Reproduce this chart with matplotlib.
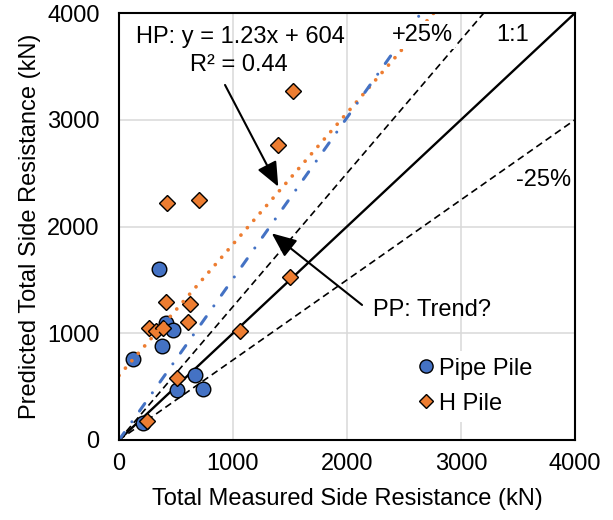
import matplotlib
matplotlib.use("Agg")
import matplotlib.pyplot as plt
import numpy as np
from matplotlib.lines import Line2D

plt.rcParams['font.family'] = ['Liberation Sans', 'DejaVu Sans']
FS = 17

# Data
pipe_x = [350, 120, 415, 476, 381, 665, 511, 735, 213]
pipe_y = [1602, 755, 1095, 1035, 877, 609, 468, 475, 156]
h_x = [1524, 1397, 424, 704, 408, 620, 604, 264, 325, 383, 1059, 1497, 511, 242]
h_y = [3272, 2763, 2223, 2248, 1295, 1275, 1105, 1052, 1025, 1050, 1021, 1524, 578, 178]

hp_slope, hp_int = 1.23, 604
pp_slope = 1.51
ref_x = [0, 4000]

fig = plt.figure(figsize=(6.13, 5.2), dpi=100)
ax = fig.add_axes([119/613, 1-440/520, 456/613, 427/520])
ax.set_xlim(0, 4000)
ax.set_ylim(0, 4000)
ax.set_xticks([0, 1000, 2000, 3000, 4000])
ax.set_yticks([0, 1000, 2000, 3000, 4000])
ax.grid(True, color='#D9D9D9', lw=1.1, zorder=0)
ax.set_axisbelow(True)
for s in ax.spines.values():
    s.set_linewidth(1.5)
    s.set_color('black')
    s.set_zorder(6)
ax.tick_params(length=0, labelsize=FS)
ax.tick_params(axis='y', pad=14)
ax.tick_params(axis='x', pad=9)

# reference lines
rx = np.array(ref_x, dtype=float)
ax.plot(rx, rx, color='black', lw=1.7, zorder=2)
ax.plot(rx, 1.25*rx, color='black', lw=1.2, ls=(0, (4.2, 2.6)), zorder=2)
ax.plot(rx, 0.75*rx, color='black', lw=1.2, ls=(0, (4.2, 2.6)), zorder=2)

# scatter
ax.plot(pipe_x, pipe_y, 'o', ms=10.5, mfc='#4472C4', mec='black', mew=1.0, ls='none', zorder=3)
ax.plot(h_x, h_y, 'D', ms=8.4, mfc='#ED7D31', mec='black', mew=1.0, ls='none', zorder=3.5)

# trend lines
hx_end = (4000 - hp_int) / hp_slope
ax.plot([0, hx_end], [hp_int, hp_int + hp_slope*hx_end], color='#ED7D31', lw=2.7,
        ls=(0, (0.01, 2.6)), dash_capstyle='round', zorder=4)
px_end = 4000 / pp_slope
ax.plot([0, px_end], [0, 4000], color='#4472C4', lw=2.2,
        ls=(0, (3.0, 4.3, 0.01, 4.3)), dash_capstyle='round', zorder=4)

# labels
ax.set_xlabel('Total Measured Side Resistance (kN)', fontsize=FS, labelpad=10)
ax.set_ylabel('Predicted Total Side Resistance (kN)', fontsize=FS, labelpad=4)

ax.text(1061, 3775, 'HP: y = 1.23x + 604', fontsize=FS, ha='center', va='center', zorder=7)
ax.text(1053, 3513, 'R² = 0.44', fontsize=FS, ha='center', va='center', zorder=7)
ax.text(2658, 3794, '+25%', fontsize=FS, ha='center', va='center', zorder=5,
        bbox=dict(facecolor='white', edgecolor='none', pad=2))
ax.text(3456, 3794, '1:1', fontsize=FS, ha='center', va='center', zorder=5)
ax.text(3724, 2436, '-25%', fontsize=FS, ha='center', va='center', zorder=5)
ax.text(2228, 1218, 'PP: Trend?', fontsize=FS, ha='left', va='center', zorder=5)

ap = dict(arrowstyle='-|>,head_length=0.75,head_width=0.32', color='black', lw=1.5,
          mutation_scale=20, shrinkA=0, shrinkB=0)
ax.annotate('', xy=(1397, 2373), xytext=(930, 3326), arrowprops=ap, zorder=7)
ax.annotate('', xy=(1340, 1936), xytext=(2132, 1265), arrowprops=ap, zorder=7)

handles = [Line2D([], [], marker='o', ls='none', ms=9.5, mfc='#4472C4', mec='black', mew=1.0),
           Line2D([], [], marker='D', ls='none', ms=7.5, mfc='#ED7D31', mec='black', mew=1.0)]
leg = ax.legend(handles, ['Pipe Pile', 'H Pile'], loc='center', bbox_to_anchor=(0.78, 0.126),
                fontsize=FS, frameon=True, facecolor='white', edgecolor='none', framealpha=1,
                handlelength=0.7, handletextpad=0.2, labelspacing=0.55, borderpad=0.3,
                fancybox=False)
leg.set_zorder(8)

fig.savefig('out.png', dpi=100)
